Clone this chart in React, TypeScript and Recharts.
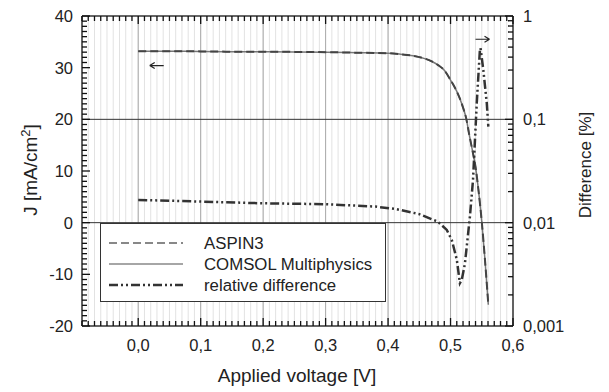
import React from 'react';
import {
  LineChart,
  Line,
  XAxis,
  YAxis,
  CartesianGrid,
  ReferenceLine,
  ReferenceDot,
} from 'recharts';

// J-V curve (both solvers overlap)
const voltageJ = [0, 0.05, 0.1, 0.15, 0.2, 0.25, 0.3, 0.35, 0.4, 0.42, 0.44, 0.46, 0.47, 0.48, 0.49, 0.5, 0.51, 0.52, 0.525, 0.53, 0.535, 0.54, 0.545, 0.55, 0.555, 0.5605];
const jAspin3 = [33.2, 33.2, 33.15, 33.1, 33.1, 33.05, 33.0, 32.9, 32.8, 32.6, 32.3, 31.7, 31.2, 30.5, 29.5, 27.6, 25.4, 22.3, 20.2, 17.0, 14.0, 10.8, 6.0, 0.2, -7.0, -15.9];
const jComsol = [33.2, 33.2, 33.15, 33.1, 33.1, 33.05, 33.0, 32.9, 32.8, 32.6, 32.3, 31.7, 31.2, 30.5, 29.5, 27.6, 25.4, 22.3, 20.2, 17.0, 14.0, 10.8, 6.0, 0.2, -7.0, -15.9];

// relative difference [%]
const voltageDiff = [0, 0.1, 0.2, 0.3, 0.38, 0.414, 0.45, 0.48, 0.494, 0.502, 0.51, 0.515, 0.518, 0.523, 0.531, 0.536, 0.542, 0.547, 0.548, 0.5525, 0.558, 0.5605];
const relDiff = [0.0166, 0.016, 0.0154, 0.0151, 0.0143, 0.0135, 0.0121, 0.0102, 0.0085, 0.0068, 0.0044, 0.0026, 0.0028, 0.004, 0.0114, 0.026, 0.144, 0.47, 0.49, 0.3, 0.144, 0.085];

const xTicks = Array.from({ length: 70 }, (_, i) => Math.round(i - 9) / 100);
const xMajor = [0, 0.1, 0.2, 0.3, 0.4, 0.5, 0.6];
const jTicks = Array.from({ length: 61 }, (_, i) => i - 20);
const diffTicks = [0.001, 0.01, 0.1].flatMap((d) => [1, 2, 3, 4, 5, 6, 7, 8, 9].map((m) => +(m * d).toPrecision(3))).concat([1]);
const diffMajor = [0.001, 0.01, 0.1, 1];

const legendItems = ['ASPIN3', 'COMSOL Multiphysics', 'relative difference'];

const FONT = '"Liberation Sans", Arial, sans-serif';
const INK = '#222';
const TICK = '#111';
const comma = (v: number) => String(v).replace('.', ',');
const isMajorX = (v: number) => xMajor.some((m) => Math.abs(m - v) < 1e-6);

const aspin = voltageJ.map((v, i) => ({ v, j: jAspin3[i] }));
const comsol = voltageJ.map((v, i) => ({ v, j: jComsol[i] }));
const diff = voltageDiff.map((v, i) => ({ v, d: relDiff[i] }));

const BottomTick = ({ x, y, payload }: any) => {
  const major = isMajorX(payload.value);
  return (
    <g>
      <path d={`M${x} ${y} V${y - (major ? 8 : 5)}`} stroke={TICK} strokeWidth={1.3} fill="none" />
      {major && (
        <text x={x} y={y + 25} textAnchor="middle" fontSize={16.5} fontFamily={FONT} fill={INK}>
          {payload.value.toFixed(1).replace('.', ',')}
        </text>
      )}
    </g>
  );
};

const TopTick = ({ x, y, payload }: any) => {
  const major = isMajorX(payload.value);
  return <path d={`M${x} ${y} V${y + (major ? 8 : 5)}`} stroke={TICK} strokeWidth={1.3} fill="none" />;
};

const LeftTick = ({ x, y, payload }: any) => {
  const major = payload.value % 10 === 0;
  return (
    <g>
      <path d={`M${x} ${y} H${x + (major ? 8 : 5)}`} stroke={TICK} strokeWidth={1.3} fill="none" />
      {major && (
        <text x={x - 9} y={y + 6} textAnchor="end" fontSize={16.5} fontFamily={FONT} fill={INK}>
          {payload.value}
        </text>
      )}
    </g>
  );
};

const RightTick = ({ x, y, payload }: any) => {
  const major = diffMajor.some((m) => Math.abs(m - payload.value) < 1e-9);
  return (
    <g>
      <path d={`M${x} ${y} H${x - (major ? 8 : 5)}`} stroke={TICK} strokeWidth={1.3} fill="none" />
      {major && (
        <text x={x + 10} y={y + 6} textAnchor="start" fontSize={16.5} fontFamily={FONT} fill={INK}>
          {comma(payload.value)}
        </text>
      )}
    </g>
  );
};

const Arrow = ({ cx, cy, dir }: any) => {
  const tip = cx + dir * 7;
  return (
    <path
      d={`M${cx - 7} ${cy} L${cx + 7} ${cy} M${tip} ${cy} L${tip - dir * 5} ${cy - 3} M${tip} ${cy} L${tip - dir * 5} ${cy + 3}`}
      stroke="#222"
      strokeWidth={1.2}
      fill="none"
    />
  );
};

const LegendBox = () => {
  const samples = [
    { stroke: '#888', dash: '8 4', w: 2 },
    { stroke: '#888', dash: undefined, w: 1.5 },
    { stroke: '#333', dash: '9 3 2 3 2 3', w: 2.5 },
  ];
  return (
    <div
      style={{
        position: 'absolute',
        left: 100,
        top: 223,
        width: 284,
        height: 77,
        border: '1.5px solid #333',
        background: '#fff',
      }}
    >
      <svg width={284} height={77} style={{ display: 'block' }}>
        {legendItems.map((name, i) => (
          <g key={name}>
            <line
              x1={8}
              x2={82}
              y1={19 + i * 21}
              y2={19 + i * 21}
              stroke={samples[i].stroke}
              strokeWidth={samples[i].w}
              strokeDasharray={samples[i].dash}
            />
            <text x={103} y={25 + i * 21} fontSize={16.8} fontFamily={FONT} fill={INK}>
              {name}
            </text>
          </g>
        ))}
      </svg>
    </div>
  );
};

export default function App() {
  return (
    <div style={{ position: 'absolute', left: 0, top: 0, width: 609, height: 392, background: '#fff' }}>
      <LineChart width={609} height={392} margin={{ top: 15, right: 95, bottom: 65, left: 81 }}>
        <CartesianGrid xAxisId="bottom" yAxisId="j" horizontal={false} stroke="#e2e2e2" />
        <XAxis
          xAxisId="bottom"
          type="number"
          dataKey="v"
          domain={[-0.09, 0.6]}
          allowDataOverflow
          ticks={xTicks}
          interval={0}
          height={1}
          tickSize={0}
          tickMargin={0}
          tickLine={false}
          tick={<BottomTick />}
          axisLine={{ stroke: '#333', strokeWidth: 1.5 }}
        />
        <XAxis
          xAxisId="top"
          orientation="top"
          type="number"
          dataKey="v"
          domain={[-0.09, 0.6]}
          allowDataOverflow
          ticks={xTicks}
          interval={0}
          height={1}
          tickSize={0}
          tickMargin={0}
          tickLine={false}
          tick={<TopTick />}
          axisLine={{ stroke: '#333', strokeWidth: 1.5 }}
        />
        <YAxis
          yAxisId="j"
          type="number"
          domain={[-20, 40]}
          allowDataOverflow
          ticks={jTicks}
          interval={0}
          width={1}
          tickSize={0}
          tickMargin={0}
          tickLine={false}
          tick={<LeftTick />}
          axisLine={{ stroke: '#333', strokeWidth: 1.5 }}
        />
        <YAxis
          yAxisId="diff"
          orientation="right"
          type="number"
          scale="log"
          domain={[0.001, 1]}
          allowDataOverflow
          ticks={diffTicks}
          interval={0}
          width={1}
          tickSize={0}
          tickMargin={0}
          tickLine={false}
          tick={<RightTick />}
          axisLine={{ stroke: '#333', strokeWidth: 1.5 }}
        />
        {xMajor.slice(0, 6).map((m) => (
          <ReferenceLine key={m} x={m} xAxisId="bottom" yAxisId="j" stroke="#aaa" strokeWidth={1} />
        ))}
        <ReferenceLine y={0} xAxisId="bottom" yAxisId="j" stroke="#333" strokeWidth={1} />
        <ReferenceLine y={20} xAxisId="bottom" yAxisId="j" stroke="#333" strokeWidth={1} />
        <Line
          data={comsol}
          xAxisId="bottom"
          yAxisId="j"
          dataKey="j"
          type="monotone"
          stroke="#777"
          strokeWidth={1.5}
          dot={false}
          isAnimationActive={false}
        />
        <Line
          data={aspin}
          xAxisId="bottom"
          yAxisId="j"
          dataKey="j"
          type="monotone"
          stroke="#444"
          strokeWidth={2}
          strokeDasharray="8 4"
          dot={false}
          isAnimationActive={false}
        />
        <Line
          data={diff}
          xAxisId="bottom"
          yAxisId="diff"
          dataKey="d"
          type="linear"
          stroke="#333"
          strokeWidth={2.5}
          strokeDasharray="9 3 2 3 2 3"
          dot={false}
          isAnimationActive={false}
        />
        <ReferenceDot xAxisId="bottom" yAxisId="j" x={0.0296} y={30.4} r={0} shape={(p: any) => <Arrow {...p} dir={-1} />} />
        <ReferenceDot xAxisId="bottom" yAxisId="j" x={0.5512} y={35.5} r={0} shape={(p: any) => <Arrow {...p} dir={1} />} />
      </LineChart>
      <LegendBox />
      <svg width={609} height={392} style={{ position: 'absolute', left: 0, top: 0, pointerEvents: 'none' }}>
        <text transform="rotate(-90 37 170)" x={37} y={170} textAnchor="middle" fontSize={19} fontFamily={FONT} fill={INK}>
          J [mA/cm<tspan dy={-7} fontSize={13}>2</tspan>
          <tspan dy={7}>]</tspan>
        </text>
        <text transform="rotate(-90 591 165)" x={591} y={165} textAnchor="middle" fontSize={17} fontFamily={FONT} fill={INK}>
          Difference [%]
        </text>
        <text x={297} y={382} textAnchor="middle" fontSize={19} fontFamily={FONT} fill={INK}>
          Applied voltage [V]
        </text>
      </svg>
    </div>
  );
}
